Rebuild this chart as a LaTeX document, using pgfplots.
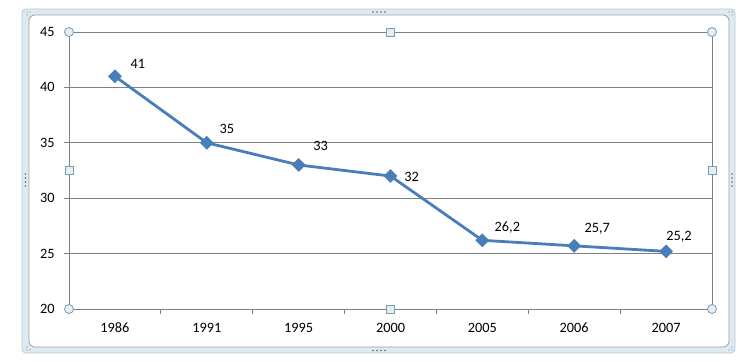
\documentclass[border=0pt]{standalone}
\usepackage{pgfplots}
\pgfplotsset{compat=1.18}
\usepackage{pgfplotstable}
\usepackage{fontspec}
\setmainfont{Carlito}
\definecolor{serieblue}{HTML}{4A7EBB}
\definecolor{gridgray}{HTML}{808080}
\definecolor{band}{HTML}{DDEAEF}
\definecolor{bandedge}{HTML}{B5CCD6}
\definecolor{handle}{HTML}{E4EEF3}
\definecolor{handleedge}{HTML}{7F9DB0}
\definecolor{gripdot}{HTML}{5A6870}

\pgfplotstableread{
x y dx dy lab
0 41 23 12 41
1 35 20 14 35
2 33 22 19 33
3 32 21 -1 32
4 26.2 25 13 26,2
5 25.7 23 17 25,7
6 25.2 13 15 25,2
}\datatable

\tikzset{
  circhandle/.style={circle, draw=handleedge, fill=handle, line width=0.8pt, minimum size=9pt, inner sep=0pt},
  sqhandle/.style={rectangle, draw=handleedge, fill=handle, line width=0.8pt, minimum size=8pt, inner sep=0pt},
}

\begin{document}
\fontsize{14.3}{17}\selectfont
\begin{tikzpicture}
\begin{scope}[x=1pt,y=-1pt]
\path[use as bounding box] (0,0) rectangle (743,361);
\fill[white] (0,0) rectangle (743,361);
\draw[bandedge, fill=band, rounded corners=4pt, line width=0.8pt] (22,9) rectangle (735,353);
\draw[gray!75, fill=white, rounded corners=6pt, line width=0.8pt] (29,15) rectangle (729,347);
\foreach \xx in {373,377,381,385} {
  \fill[gripdot] (\xx,12) circle[radius=0.9pt];
  \fill[gripdot] (\xx,350.5) circle[radius=0.9pt];
}
\foreach \yy in {174,178,182,186} {
  \fill[gripdot] (25.5,\yy) circle[radius=0.9pt];
  \fill[gripdot] (732,\yy) circle[radius=0.9pt];
}
\foreach \cx/\cy in {27/12,30/12,27/15, 729/12,732/12,732/15, 27/350,27/347,30/350, 732/350,729/350,732/347} {
  \fill[gripdot!80] (\cx,\cy) circle[radius=0.7pt];
}
\end{scope}
\begin{axis}[
  at={(69pt,-309pt)}, anchor=south west,
  width=643pt, height=277pt, scale only axis,
  xmin=-0.5, xmax=6.5, ymin=20, ymax=45,
  xtick={0,...,6},
  xticklabels={1986,1991,1995,2000,2005,2006,2007},
  minor xtick={-0.5,0.5,...,6.5},
  ytick={20,25,...,45},
  xtick pos=bottom, ytick pos=left,
  ymajorgrids,
  major grid style={gridgray, line width=0.9pt},
  axis line style={gridgray, line width=0.9pt},
  tick align=outside,
  major tick length=5pt, minor tick length=5pt,
  tick style={gridgray, line width=0.9pt},
  major x tick style={draw=none},
  /pgf/number format/assume math mode=true,
  tick label style={font=\fontsize{14.3}{17}\selectfont, text=black},
  yticklabel style={xshift=-4.5pt},
  xticklabel style={yshift=-4pt},
  clip=false,
]
\addplot[serieblue, line width=2.8pt,
  mark=square*, mark size=3.5pt, mark options={rotate=45, solid},
  nodes near coords, point meta=explicit symbolic,
  visualization depends on={\thisrow{dx} \as \dx},
  visualization depends on={\thisrow{dy} \as \dy},
  nodes near coords style={anchor=center, xshift=\dx pt, yshift=\dy pt, text=black, font=\fontsize{14.3}{17}\selectfont},
] table[x=x, y=y, meta=lab] {\datatable};
\node[circhandle] at (rel axis cs:0,0) {};
\node[circhandle] at (rel axis cs:1,0) {};
\node[circhandle] at (rel axis cs:0,1) {};
\node[circhandle] at (rel axis cs:1,1) {};
\node[sqhandle] at (rel axis cs:0.5,0) {};
\node[sqhandle] at (rel axis cs:0.5,1) {};
\node[sqhandle] at (rel axis cs:0,0.5) {};
\node[sqhandle] at (rel axis cs:1,0.5) {};
\end{axis}
\end{tikzpicture}
\end{document}
